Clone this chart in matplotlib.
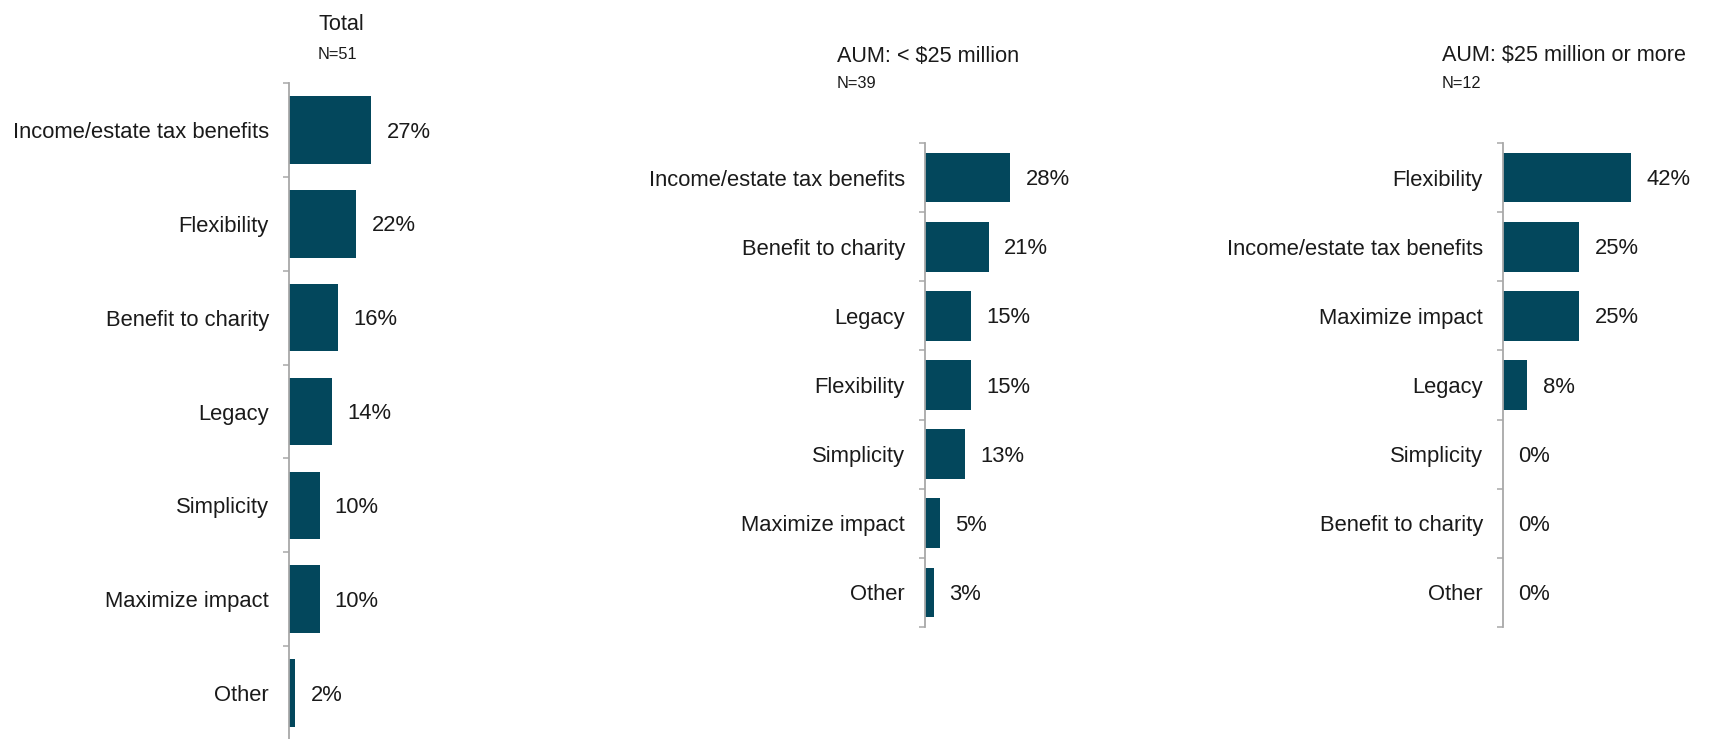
import matplotlib
matplotlib.use("Agg")
import matplotlib.pyplot as plt
from matplotlib import font_manager

# Survey results: share of respondents by primary reason
total_labels = ["Income/estate tax benefits", "Flexibility", "Benefit to charity",
                "Legacy", "Simplicity", "Maximize impact", "Other"]
total_values = [27, 22, 16, 14, 10, 10, 2]

small_labels = ["Income/estate tax benefits", "Benefit to charity", "Legacy",
                "Flexibility", "Simplicity", "Maximize impact", "Other"]
small_values = [28, 21, 15, 15, 13, 5, 3]

large_labels = ["Flexibility", "Income/estate tax benefits", "Maximize impact",
                "Legacy", "Simplicity", "Benefit to charity", "Other"]
large_values = [42, 25, 25, 8, 0, 0, 0]

titles = ["Total", "AUM: < $25 million", "AUM: $25 million or more"]
subtitles = ["N=51", "N=39", "N=12"]

W, H = 1710, 739
BAR = "#03475C"
AXIS = "#A8A8A8"
PX_PER_PCT = 3.05

names = {f.name for f in font_manager.fontManager.ttflist}
body_font = "Liberation Sans" if "Liberation Sans" in names else "DejaVu Sans"
title_font = "Liberation Sans Narrow" if "Liberation Sans Narrow" in names else body_font
narrow = title_font != body_font
plt.rcParams["font.family"] = body_font

fig = plt.figure(figsize=(W / 100, H / 100), dpi=100)

# (axis x, top y, bottom y) in pixels for each panel
panels = [
    (289, 83, 740, total_labels, total_values),
    (925, 143, 627, small_labels, small_values),
    (1503, 143, 627, large_labels, large_values),
]
title_pos = [(318, 30, 59), (837, 62, 88), (1442, 61, 88)]
title_size = 17.8 if narrow else 15.6
sub_size = 12.7 if narrow else 11.8

for (x0, top, bot, labels, values), (tx, ty, sy), title, sub in zip(
        panels, title_pos, titles, subtitles):
    width_px = 170
    ax = fig.add_axes([x0 / W, 1 - bot / H, width_px / W, (bot - top) / H])
    n = len(labels)
    pos = list(range(n))
    ax.barh(pos, values, height=0.72, color=BAR, edgecolor="none")
    ax.set_ylim(n - 0.5, -0.5)
    ax.set_xlim(0, width_px / PX_PER_PCT)
    ax.set_yticks(pos)
    ax.set_yticklabels(labels, fontsize=15.8, color="#1a1a1a")
    ax.set_yticks([i - 0.5 for i in range(n + 1)], minor=True)
    ax.tick_params(axis="y", which="major", length=0, pad=14.5)
    ax.tick_params(axis="y", which="minor", length=4.5, width=1.1, color=AXIS,
                   direction="out")
    ax.set_xticks([])
    for s in ("top", "right", "bottom"):
        ax.spines[s].set_visible(False)
    ax.spines["left"].set_color(AXIS)
    ax.spines["left"].set_linewidth(1.3)
    ax.patch.set_alpha(0)
    for p, v in zip(pos, values):
        ax.annotate(f"{v}%", xy=(v, p), xytext=(11, -1.5), textcoords="offset points",
                    va="center", ha="left", fontsize=15.8, color="#1a1a1a")
    fig.text(tx / W, 1 - ty / H, title, fontsize=title_size, family=title_font,
             va="baseline", ha="left", color="#1a1a1a")
    fig.text(tx / W, 1 - sy / H, sub, fontsize=sub_size, family=title_font,
             va="baseline", ha="left", color="#1a1a1a")

fig.savefig("out.png", dpi=100)
